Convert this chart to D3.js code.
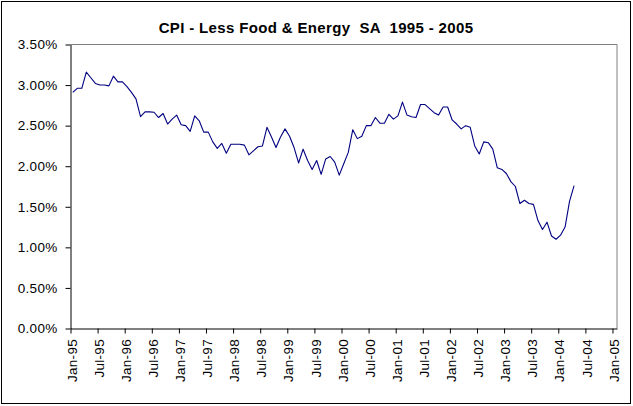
<!DOCTYPE html>
<html><head><meta charset="utf-8">
<script src="https://cdn.jsdelivr.net/npm/d3@7"></script>
<style>
html,body{margin:0;padding:0;background:#fff;}
svg{display:block;}
text{font-family:Arial,"Liberation Sans",sans-serif;}
</style></head>
<body>
<script>
// ---- data ----
const title = "CPI - Less Food & Energy  SA  1995 - 2005";
const startYear = 1995; // first monthly observation: Jan-1995
const cpi = [
 2.91,2.96,2.96,3.16,3.09,3.02,3.00,3.00,2.99,3.11,3.04,3.04,
 2.98,2.91,2.83,2.61,2.67,2.67,2.665,2.60,2.65,2.52,2.58,2.63,
 2.51,2.50,2.43,2.62,2.56,2.42,2.42,2.30,2.22,2.28,2.16,2.27,
 2.27,2.27,2.26,2.14,2.19,2.24,2.25,2.48,2.36,2.23,2.36,2.46,
 2.37,2.23,2.04,2.21,2.07,1.96,2.07,1.90,2.09,2.12,2.05,1.89,
 2.03,2.17,2.45,2.34,2.37,2.50,2.50,2.60,2.53,2.53,2.64,2.58,
 2.62,2.79,2.63,2.61,2.60,2.76,2.76,2.71,2.66,2.63,2.73,2.73,
 2.57,2.52,2.46,2.50,2.48,2.25,2.15,2.30,2.29,2.21,1.98,1.96,
 1.91,1.81,1.75,1.54,1.58,1.54,1.53,1.33,1.22,1.31,1.14,1.10,
 1.15,1.25,1.57,1.76
];
const xTickLabels = ["Jan-95","Jul-95","Jan-96","Jul-96","Jan-97","Jul-97","Jan-98","Jul-98",
 "Jan-99","Jul-99","Jan-00","Jul-00","Jan-01","Jul-01","Jan-02","Jul-02","Jan-03","Jul-03",
 "Jan-04","Jul-04","Jan-05"];
const xTickMonths = xTickLabels.map((d,i)=>i*6); // months since Jan-95
const yTicks = [0,0.5,1.0,1.5,2.0,2.5,3.0,3.5];

// ---- layout ----
const W=633,H=406;
const L=70.5,R=617,T=44.5,B=328.5;
const svg=d3.select("body").append("svg").attr("width",W).attr("height",H);
svg.append("rect").attr("x",1.5).attr("y",1.5).attr("width",629).attr("height",402)
  .attr("fill","#fff").attr("stroke","#000").attr("stroke-width",1);

const x=d3.scaleLinear().domain([0,121]).range([L,R]);
const y=d3.scaleLinear().domain([0,3.5]).range([B,T]);

// plot border (top & right gray)
svg.append("path").attr("d",`M${L},${T}H${R}V${B}`).attr("fill","none")
  .attr("stroke","#808080").attr("stroke-width",1);

// y axis
const ya=svg.append("g").attr("transform",`translate(${L},0)`)
  .call(d3.axisLeft(y).tickValues(yTicks).tickSize(5).tickSizeOuter(0)
    .tickFormat(d=>d3.format(".2f")(d)+"%"));
ya.selectAll("text").attr("font-size","13.5px").attr("fill","#000").attr("x",-13)
  .attr("letter-spacing","0.3px");
ya.selectAll("line,path").attr("stroke","#000");

// x axis
const labelByMonth=new Map(xTickMonths.map((m,i)=>[m,xTickLabels[i]]));
const xa=svg.append("g").attr("transform",`translate(0,${B})`)
  .call(d3.axisBottom(x).tickValues(xTickMonths).tickSize(5).tickSizeOuter(0)
    .tickFormat(m=>labelByMonth.get(m)));
xa.selectAll("line,path").attr("stroke","#000");
xa.selectAll("text").attr("font-size","13.5px").attr("fill","#000")
  .attr("letter-spacing","0.3px")
  .attr("transform","rotate(-90)").attr("text-anchor","end")
  .attr("x",-10.5).attr("y",0).attr("dy","0.42em");

// line
const line=d3.line().x((d,i)=>x(i+0.5)).y(d=>y(d));
svg.append("path").datum(cpi).attr("d",line).attr("fill","none")
  .attr("stroke","#000080").attr("stroke-width",1.1).attr("stroke-linejoin","round");

// title
svg.append("text").attr("x",316).attr("y",33).attr("text-anchor","middle")
  .attr("font-size","15px").attr("font-weight","bold").attr("fill","#000")
  .attr("letter-spacing","0.35px")
  .attr("xml:space","preserve").style("white-space","pre").text(title);
</script>
</body></html>
